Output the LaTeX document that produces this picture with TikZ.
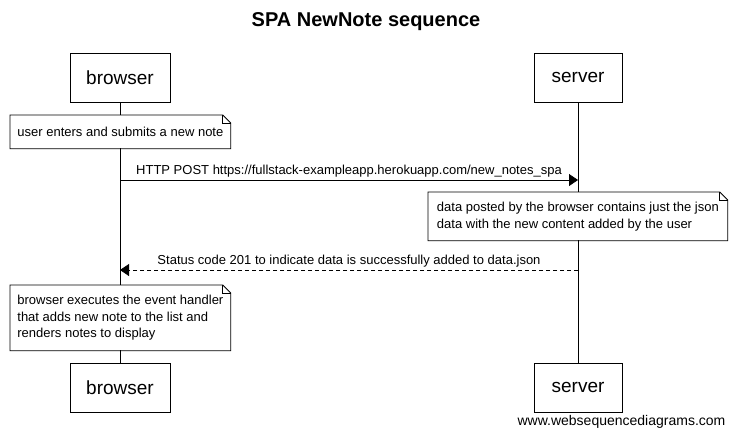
\documentclass[tikz,border=0pt]{standalone}
\usepackage{fontspec}
\setmainfont{Liberation Sans}
\usepackage{tikz}
\usetikzlibrary{positioning,calc,arrows.meta}

\begin{document}
\begin{tikzpicture}[x=1pt, y=-1pt, line width=0.8pt,
    actor/.style={draw, fill=white, minimum width=100pt, minimum height=49pt, inner sep=0pt, font=\fontsize{19}{22}\selectfont},
    notebox/.style={anchor=north west, fill=white, align=left, inner xsep=7pt, inner ysep=0pt, font=\fontsize{13}{16.5}\selectfont},
    msg/.style={-{Triangle[length=9pt, width=12pt]}},
    lbl/.style={midway, above, inner sep=2pt, font=\fontsize{13}{16}\selectfont}]
    \useasboundingbox (0,0) rectangle (736,437);
    \fill[white] (0,0) rectangle (736,437);

    % Title
    \node [font=\bfseries\fontsize{20}{24}\selectfont] (title) at (366,22) {SPA NewNote sequence};

    % Actors
    \node [actor] (browserTop) at (120,77.5) {browser};
    \node [actor, minimum width=88pt] (serverTop) at (578,77.5) {server};
    \node [actor] (browserBot) at (120,387.5) {browser};
    \node [actor, minimum width=88pt] (serverBot) at (578,387.5) {server};

    % Lifelines
    \draw (browserTop) -- (browserBot);
    \draw (serverTop) -- (serverBot);

    % Notes
    \node [notebox, minimum width=220pt, minimum height=33pt] (noteSubmit) at (10,115) {user enters and submits a new note};
    \node [notebox, minimum width=299pt, minimum height=48pt] (notePosted) at (428,192) {data posted by the browser contains just the json\\data with the new content added by the user};
    \node [notebox, minimum width=219pt, minimum height=65pt] (noteRender) at (10,285) {browser executes the event handler\\that adds new note to the list and\\renders notes to display};
    % folded corner outlines
    \foreach \n in {noteSubmit,notePosted,noteRender} {
        \draw (\n.south west) -- (\n.south east) -- ([yshift=-8pt]\n.north east)
            -- ([xshift=-8pt]\n.north east) -- (\n.north west) -- cycle;
        \draw ([xshift=-8pt]\n.north east) |- ([yshift=-8pt]\n.north east);
    }

    % Messages
    \draw [msg] (browserTop.south |- 0,180) -- (serverTop.south |- 0,180)
        node [lbl] {HTTP POST https://fullstack-exampleapp.herokuapp.com/new\_notes\_spa};
    \draw [msg, dash pattern=on 4pt off 3pt] (serverTop.south |- 0,270) -- (browserTop.south |- 0,270)
        node [lbl] {Status code 201 to indicate data is successfully added to data.json};

    % Footer
    \node [font=\fontsize{14}{16}\selectfont] (footer) at (621.5,422) {www.websequencediagrams.com};
\end{tikzpicture}
\end{document}
